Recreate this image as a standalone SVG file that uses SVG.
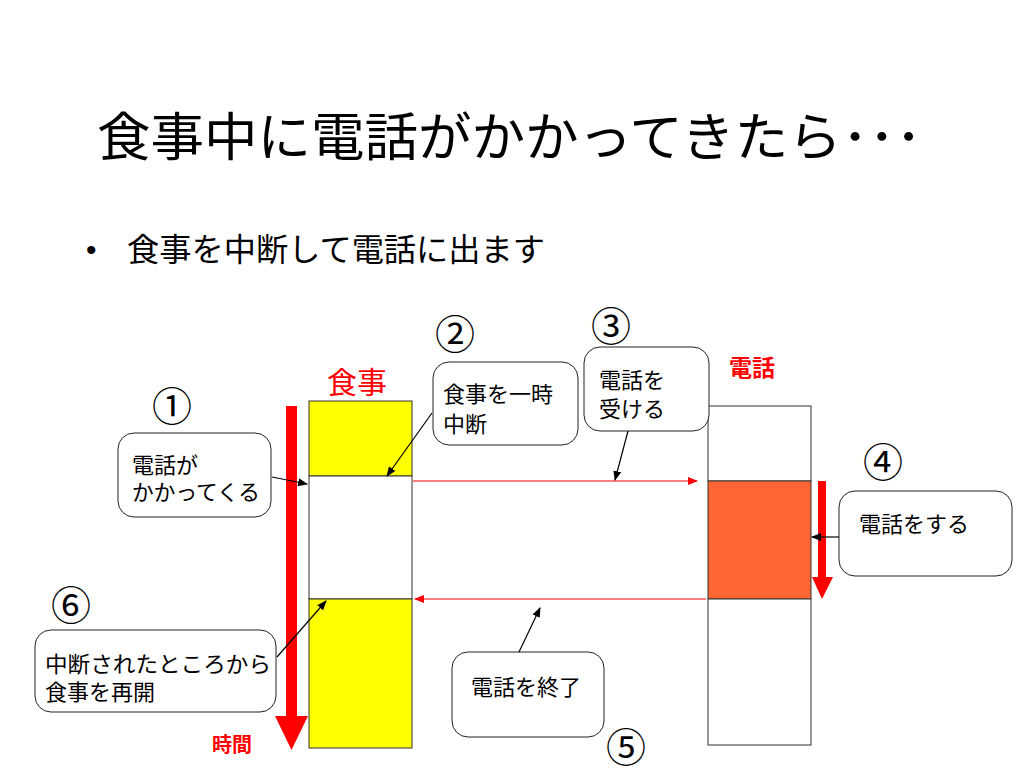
<svg xmlns="http://www.w3.org/2000/svg" width="1024" height="768" viewBox="0 0 1024 768">
<defs>
<style>
text{font-family:"Noto Sans CJK JP","Liberation Sans",sans-serif;fill:#000}
.t{font-size:22px}
.num{font-size:40px}
.red{fill:#ff0000}
.box{fill:#fff;stroke:#222;stroke-width:1}
.col{stroke:#333;stroke-width:1}
.blk{stroke:#000;stroke-width:1.2;fill:none;marker-end:url(#ab)}
.rl{stroke:#ff0000;stroke-width:1.2;fill:none;marker-end:url(#ar)}
</style>
<marker id="ab" markerWidth="10" markerHeight="8" refX="9" refY="4" orient="auto" markerUnits="userSpaceOnUse"><path d="M0,0 L10,4 L0,8 Z" fill="#000"/></marker>
<marker id="ar" markerWidth="10" markerHeight="8" refX="9" refY="4" orient="auto" markerUnits="userSpaceOnUse"><path d="M0,0 L10,4 L0,8 Z" fill="#ff0000"/></marker>
</defs>
<rect width="1024" height="768" fill="#fff"/>
<text x="97" y="156" font-size="52" textLength="825" lengthAdjust="spacingAndGlyphs">食事中に電話がかかってきたら･･･</text>
<text x="86" y="260" font-size="30" style="font-family:'Liberation Sans',sans-serif">•</text>
<text x="127" y="261" font-size="32" textLength="418" lengthAdjust="spacingAndGlyphs">食事を中断して電話に出ます</text>

<g id="meal-column">
<rect class="col" x="309" y="401" width="103" height="75" fill="#ffff00"/>
<rect class="col" x="309" y="476" width="103" height="123" fill="#fff"/>
<rect class="col" x="309" y="599" width="103" height="149" fill="#ffff00"/>
<text x="327" y="393" font-size="30" class="red">食事</text>
</g>
<g id="phone-column">
<rect class="col" x="708" y="406" width="103" height="75" fill="#fff"/>
<rect class="col" x="708" y="481" width="103" height="118" fill="#ff6633"/>
<rect class="col" x="708" y="599" width="103" height="146" fill="#fff"/>
<text x="729" y="376" font-size="23" font-weight="bold" class="red">電話</text>
</g>
<g id="time-arrow">
<rect x="286" y="406" width="11" height="312" fill="#ff0000"/>
<path d="M275,716 L308,716 L291.5,750 Z" fill="#ff0000"/>
<text x="212" y="752" font-size="20" font-weight="bold" class="red">時間</text>
</g>
<g id="call-arrow">
<rect x="818" y="481" width="8" height="97" fill="#ff0000"/>
<path d="M812,577 L833,577 L822,599 Z" fill="#ff0000"/>
</g>

<g id="step1">
<text x="152" y="421" class="num">①</text>
<rect class="box" x="118" y="433" width="153" height="84" rx="16"/>
<text x="132" y="473" class="t">電話が</text>
<text x="132" y="500" class="t" textLength="128" lengthAdjust="spacingAndGlyphs">かかってくる</text>
</g>
<g id="step2">
<text x="435" y="349" class="num">②</text>
<rect class="box" x="433" y="362" width="145" height="83" rx="16"/>
<text x="443" y="402" class="t">食事を一時</text>
<text x="443" y="432" class="t">中断</text>
</g>
<g id="step3">
<text x="591" y="341" class="num">③</text>
<rect class="box" x="584" y="347" width="125" height="84" rx="16"/>
<text x="599" y="388" class="t">電話を</text>
<text x="599" y="417" class="t">受ける</text>
</g>
<g id="step4">
<text x="863" y="477" class="num">④</text>
<rect class="box" x="839" y="491" width="173" height="85" rx="16"/>
<text x="859" y="532" class="t">電話をする</text>
</g>
<g id="step5">
<text x="606" y="762" class="num">⑤</text>
<rect class="box" x="452" y="652" width="152" height="85" rx="16"/>
<text x="471" y="695" class="t">電話を終了</text>
</g>
<g id="step6">
<text x="51" y="620" class="num">⑥</text>
<rect class="box" x="35" y="630" width="241" height="82" rx="16"/>
<text x="45" y="672" class="t" textLength="226" lengthAdjust="spacingAndGlyphs">中断されたところから</text>
<text x="45" y="700" class="t">食事を再開</text>
</g>

<g id="connectors">
<line class="rl" x1="413" y1="481" x2="697" y2="481"/>
<line class="rl" x1="706" y1="599" x2="415" y2="599"/>
<line class="blk" x1="272" y1="477" x2="307" y2="484"/>
<line class="blk" x1="432" y1="413" x2="387" y2="476"/>
<line class="blk" x1="628" y1="431" x2="615" y2="480"/>
<line class="blk" x1="839" y1="537" x2="812" y2="537"/>
<line class="blk" x1="519" y1="652" x2="540" y2="608"/>
<line class="blk" x1="277" y1="657" x2="326" y2="601"/>
</g>
</svg>
